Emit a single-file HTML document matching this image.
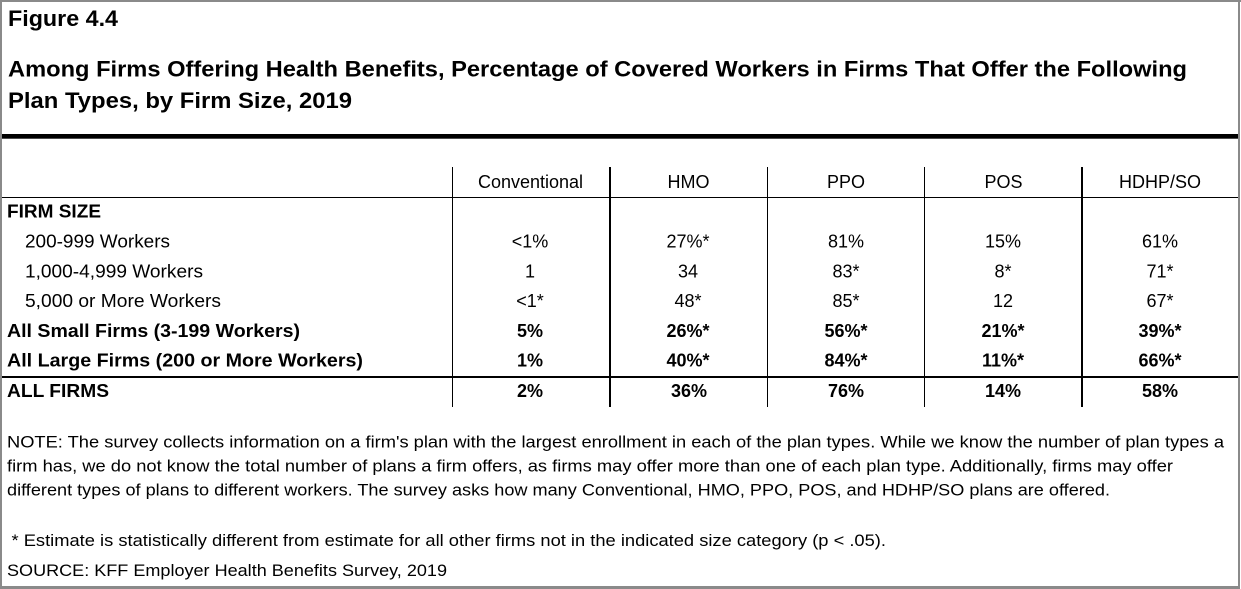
<!DOCTYPE html>
<html>
<head>
<meta charset="utf-8">
<style>
  html, body { margin: 0; padding: 0; background: #fff; }
  svg { display: block; }
  text { font-family: "Liberation Sans", Arial, sans-serif; fill: #000; }
  .t { font-weight: bold; font-size: 22px; }
  .h { font-size: 18px; }
  .b { font-size: 18px; font-weight: bold; }
  .n { font-size: 16.5px; }
</style>
</head>
<body>
<svg width="1241" height="589" viewBox="0 0 1241 589" xmlns="http://www.w3.org/2000/svg">
  <rect x="0" y="0" width="1241" height="589" fill="#fff"/>
  <!-- outer gray border -->
  <g fill="#8a8a8a" shape-rendering="crispEdges">
    <rect x="0" y="0" width="1241" height="2"/>
    <rect x="0" y="0" width="2" height="589"/>
    <rect x="1238" y="0" width="2" height="589"/>
    <rect x="0" y="586" width="1240" height="3"/>
  </g>

  <!-- Titles -->
  <text class="t" x="8" y="26" textLength="110" lengthAdjust="spacingAndGlyphs">Figure 4.4</text>
  <text class="t" x="8" y="76.5" textLength="1179" lengthAdjust="spacingAndGlyphs">Among Firms Offering Health Benefits, Percentage of Covered Workers in Firms That Offer the Following</text>
  <text class="t" x="8" y="108" textLength="344" lengthAdjust="spacingAndGlyphs">Plan Types, by Firm Size, 2019</text>

  <!-- thick rule -->
  <rect x="2" y="134" width="1236" height="4.7" fill="#000"/>

  <!-- table lines -->
  <g fill="#000" shape-rendering="crispEdges">
    <rect x="2" y="197" width="1236" height="1"/>
    <rect x="2" y="376" width="1236" height="2"/>
    <rect x="452" y="167" width="1" height="240"/>
    <rect x="609" y="167" width="2" height="240"/>
    <rect x="767" y="167" width="1" height="240"/>
    <rect x="924" y="167" width="1" height="240"/>
    <rect x="1081" y="167" width="2" height="240"/>
  </g>

  <!-- header -->
  <g class="h" text-anchor="middle">
    <text x="530.5" y="188">Conventional</text>
    <text x="688.5" y="188">HMO</text>
    <text x="846" y="188">PPO</text>
    <text x="1003.5" y="188">POS</text>
    <text x="1160" y="188">HDHP/SO</text>
  </g>

  <!-- row labels -->
  <text class="b" x="7" y="217.5" textLength="94" lengthAdjust="spacingAndGlyphs">FIRM SIZE</text>
  <text class="h" x="25" y="247.5" textLength="145" lengthAdjust="spacingAndGlyphs">200-999 Workers</text>
  <text class="h" x="25" y="277.5" textLength="178" lengthAdjust="spacingAndGlyphs">1,000-4,999 Workers</text>
  <text class="h" x="25" y="307" textLength="196" lengthAdjust="spacingAndGlyphs">5,000 or More Workers</text>
  <text class="b" x="7" y="337" textLength="293" lengthAdjust="spacingAndGlyphs">All Small Firms (3-199 Workers)</text>
  <text class="b" x="7" y="366.5" textLength="356" lengthAdjust="spacingAndGlyphs">All Large Firms (200 or More Workers)</text>
  <text class="b" x="7" y="397" textLength="102" lengthAdjust="spacingAndGlyphs">ALL FIRMS</text>

  <!-- data -->
  <g class="h" text-anchor="middle">
    <text x="530" y="247.5">&lt;1%</text>
    <text x="688" y="247.5">27%*</text>
    <text x="846" y="247.5">81%</text>
    <text x="1003" y="247.5">15%</text>
    <text x="1160" y="247.5">61%</text>

    <text x="530" y="277.5">1</text>
    <text x="688" y="277.5">34</text>
    <text x="846" y="277.5">83*</text>
    <text x="1003" y="277.5">8*</text>
    <text x="1160" y="277.5">71*</text>

    <text x="530" y="307">&lt;1*</text>
    <text x="688" y="307">48*</text>
    <text x="846" y="307">85*</text>
    <text x="1003" y="307">12</text>
    <text x="1160" y="307">67*</text>
  </g>
  <g class="b" text-anchor="middle">
    <text x="530" y="337">5%</text>
    <text x="688" y="337">26%*</text>
    <text x="846" y="337">56%*</text>
    <text x="1003" y="337">21%*</text>
    <text x="1160" y="337">39%*</text>

    <text x="530" y="366.5">1%</text>
    <text x="688" y="366.5">40%*</text>
    <text x="846" y="366.5">84%*</text>
    <text x="1003" y="366.5">11%*</text>
    <text x="1160" y="366.5">66%*</text>

    <text x="530" y="397">2%</text>
    <text x="689" y="397">36%</text>
    <text x="846" y="397">76%</text>
    <text x="1003" y="397">14%</text>
    <text x="1160" y="397">58%</text>
  </g>

  <!-- notes -->
  <text class="n" x="7" y="447.3" textLength="1217" lengthAdjust="spacingAndGlyphs">NOTE: The survey collects information on a firm's plan with the largest enrollment in each of the plan types. While we know the number of plan types a</text>
  <text class="n" x="7" y="471.7" textLength="1166" lengthAdjust="spacingAndGlyphs">firm has, we do not know the total number of plans a firm offers, as firms may offer more than one of each plan type. Additionally, firms may offer</text>
  <text class="n" x="7" y="495.3" textLength="1103" lengthAdjust="spacingAndGlyphs">different types of plans to different workers. The survey asks how many Conventional, HMO, PPO, POS, and HDHP/SO plans are offered.</text>
  <text class="n" x="11.5" y="546" textLength="874.5" lengthAdjust="spacingAndGlyphs">* Estimate is statistically different from estimate for all other firms not in the indicated size category (p &lt; .05).</text>
  <text class="n" x="7" y="576" textLength="440" lengthAdjust="spacingAndGlyphs">SOURCE: KFF Employer Health Benefits Survey, 2019</text>
</svg>
</body>
</html>
